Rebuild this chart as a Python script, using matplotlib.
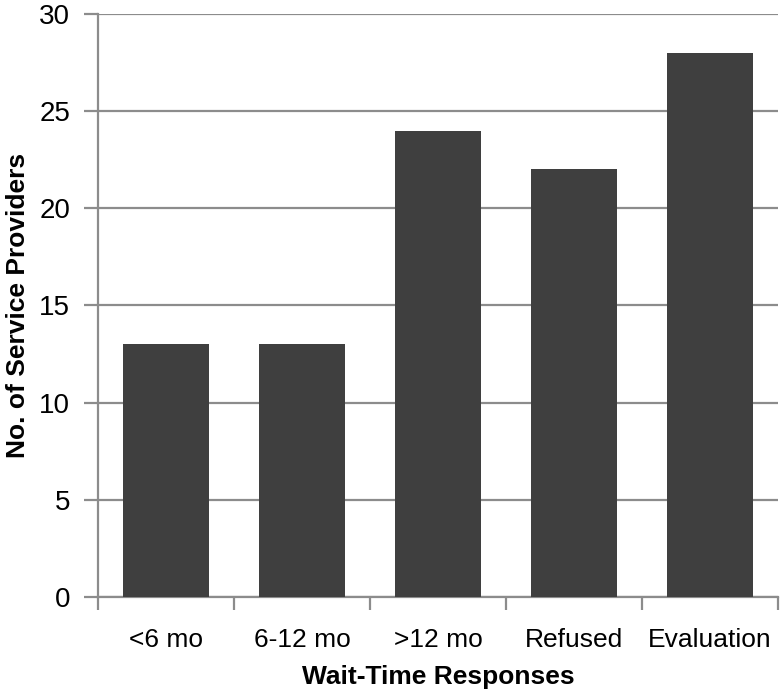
import matplotlib
matplotlib.use('Agg')
import matplotlib.pyplot as plt

categories = ['<6 mo', '6-12 mo', '>12 mo', 'Refused', 'Evaluation']
counts = [13, 13, 24, 22, 28]
yticks = [0, 5, 10, 15, 20, 25, 30]

plt.rcParams['font.family'] = ['Liberation Sans Narrow', 'Liberation Sans', 'DejaVu Sans']

fig = plt.figure(figsize=(7.8, 6.95), dpi=100)
ax = fig.add_axes([0.1256, 0.141, 0.8718, 0.839])

x = range(len(categories))
ax.bar(x, counts, width=0.63, color='#3f3f3f', zorder=3)

ax.set_xlim(-0.5, len(categories) - 0.5)
ax.set_ylim(0, 30)
ax.set_yticks(yticks)
ax.yaxis.grid(True, color='#8c8c8c', linewidth=1.6, zorder=0)

# category labels sit between the major ticks
ax.set_xticks([i - 0.5 for i in range(len(categories) + 1)], minor=False)
ax.set_xticklabels([])
ax.set_xticks(list(x), minor=True)
ax.set_xticklabels(categories, minor=True)
ax.tick_params(axis='x', which='major', length=9, width=1.6, color='#8c8c8c', direction='out')
ax.tick_params(axis='x', which='minor', length=0, labelsize=19, pad=22)
ax.tick_params(axis='y', length=10, width=1.6, color='#8c8c8c', labelsize=20, pad=10)

for s in ['top', 'right']:
    ax.spines[s].set_visible(False)
for s in ['left', 'bottom']:
    ax.spines[s].set_color('#8c8c8c')
    ax.spines[s].set_linewidth(1.6)

ax.set_xlabel('Wait-Time Responses', fontsize=19, fontweight='bold', labelpad=10)
ax.set_ylabel('No. of Service Providers', fontsize=19, fontweight='bold')
ax.yaxis.set_label_coords(-0.1, 0.5)

fig.savefig('out.png', dpi=100)
